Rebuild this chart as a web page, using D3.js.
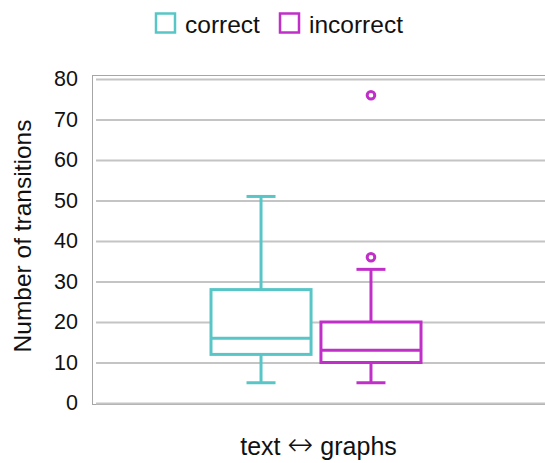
<!DOCTYPE html>
<html>
<head>
<meta charset="utf-8">
<script src="https://cdn.jsdelivr.net/npm/d3@7"></script>
<style>
  html, body { margin: 0; padding: 0; background: #fff; }
  svg { display: block; font-family: "Liberation Sans", Arial, sans-serif; }
</style>
</head>
<body>
<svg id="chart" width="545" height="463"></svg>
<script>
// Data
const categories = ['text \u2194 graphs'];
const seriesNames = ['correct', 'incorrect'];
const seriesColors = ['#58c6c6', '#c030c8'];
// [min, q1, median, q3, max]
const boxCorrect = [5, 12, 16, 28, 51];
const boxIncorrect = [5, 10, 13, 20, 33];
const outliersCorrect = [];
const outliersIncorrect = [36, 76];
const yTicks = [0, 10, 20, 30, 40, 50, 60, 70, 80];

const boxes = [
  { name: 'correct', stats: boxCorrect, outliers: outliersCorrect },
  { name: 'incorrect', stats: boxIncorrect, outliers: outliersIncorrect },
];

const width = 545, height = 463;
const margin = { top: 79, right: 10, bottom: 60, left: 96 };
const innerWidth = width - margin.left - margin.right;

const svg = d3.select('#chart');

const y = d3.scaleLinear().domain([0, 80]).range([403, 79]);
const x = d3.scaleBand().domain(categories).range([margin.left, width - margin.right]);
// the two boxes sit side by side in the middle of the category band
const xs = d3.scaleBand().domain(seriesNames).range([115, 325]).paddingInner(0.09);
const color = d3.scaleOrdinal().domain(seriesNames).range(seriesColors);

// plot frame
svg.append('rect')
  .attr('x', 92.5).attr('y', 75.5)
  .attr('width', 470).attr('height', 329)
  .attr('fill', 'none')
  .attr('stroke', '#a6a6a6')
  .attr('stroke-width', 1);

// grid lines
svg.append('g')
  .attr('transform', `translate(${margin.left},0)`)
  .call(d3.axisLeft(y).tickValues(yTicks).tickSize(-innerWidth - 20).tickFormat(''))
  .call(g => g.select('.domain').remove())
  .selectAll('line')
  .attr('stroke', '#c4c4c4')
  .attr('stroke-width', 2);

// y tick labels
svg.append('g')
  .attr('transform', 'translate(78,0)')
  .call(d3.axisLeft(y).tickValues(yTicks).tickSize(0).tickPadding(0))
  .call(g => g.select('.domain').remove())
  .selectAll('text')
  .attr('font-size', 21.5)
  .attr('fill', '#111')
  .attr('font-family', '"Liberation Sans", Arial, sans-serif');

// axis titles
svg.append('text')
  .attr('transform', 'rotate(-90)')
  .attr('x', -236)
  .attr('y', 31)
  .attr('text-anchor', 'middle')
  .attr('font-size', 24.5)
  .attr('fill', '#111')
  .text('Number of transitions');

const parts = categories[0].split('\u2194');
const xLabel = svg.append('text')
  .attr('x', x(categories[0]) + x.bandwidth() / 2 + 3)
  .attr('y', 455)
  .attr('text-anchor', 'middle')
  .attr('font-size', 25)
  .attr('fill', '#111');
xLabel.append('tspan').text(parts[0]);
xLabel.append('tspan')
  .attr('font-family', '"DejaVu Sans", sans-serif')
  .attr('font-size', 31)
  .attr('font-weight', 300)
  .text('\u2194');
xLabel.append('tspan').text(parts[1]);

// boxes
const capW = 29;
boxes.forEach(b => {
  const [mn, q1, med, q3, mx] = b.stats;
  const x0 = x(categories[0]) + xs(b.name);
  const bw = xs.bandwidth();
  const cx = x0 + bw / 2;
  const c = color(b.name);
  const g = svg.append('g')
    .attr('fill', 'none')
    .attr('stroke', c)
    .attr('stroke-width', 3);

  g.append('line').attr('x1', cx).attr('x2', cx).attr('y1', y(q3)).attr('y2', y(mx));
  g.append('line').attr('x1', cx).attr('x2', cx).attr('y1', y(q1)).attr('y2', y(mn));
  g.append('line').attr('x1', cx - capW / 2).attr('x2', cx + capW / 2).attr('y1', y(mx)).attr('y2', y(mx));
  g.append('line').attr('x1', cx - capW / 2).attr('x2', cx + capW / 2).attr('y1', y(mn)).attr('y2', y(mn));
  g.append('rect')
    .attr('x', x0).attr('width', bw)
    .attr('y', y(q3)).attr('height', y(q1) - y(q3))
    .attr('fill', '#fff');
  g.append('line').attr('x1', x0).attr('x2', x0 + bw).attr('y1', y(med)).attr('y2', y(med));

  g.selectAll('circle')
    .data(b.outliers)
    .enter()
    .append('circle')
    .attr('cx', cx)
    .attr('cy', d => y(d))
    .attr('r', 3.8);
});

// legend
const legend = svg.append('g').attr('transform', 'translate(156,13.5)');
const legendX = [0, 124];
seriesNames.forEach((s, i) => {
  const item = legend.append('g').attr('transform', `translate(${legendX[i]},0)`);
  item.append('rect')
    .attr('x', 0).attr('y', 0)
    .attr('width', 19).attr('height', 19)
    .attr('fill', 'none')
    .attr('stroke', color(s))
    .attr('stroke-width', 2.5);
  item.append('text')
    .attr('x', 29)
    .attr('y', 19.5)
    .attr('font-size', 24.5)
    .attr('fill', '#111')
    .text(s);
});
</script>
</body>
</html>
